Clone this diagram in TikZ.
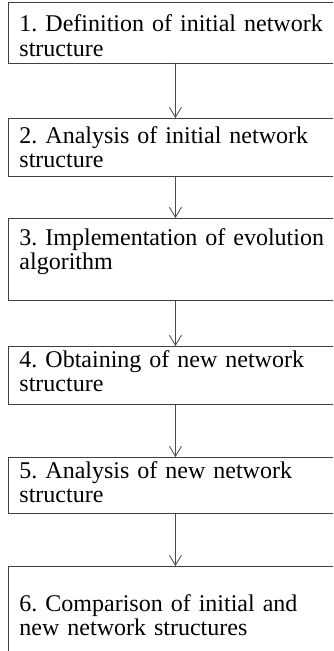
\documentclass[tikz,border=0pt]{standalone}
\usepackage{fontspec}
\setmainfont{Liberation Serif}
\usetikzlibrary{arrows.meta}

\newcommand{\stagefont}{\fontsize{24}{24.5}\selectfont\frenchspacing\spaceskip=0.3em plus 0.1em\relax}
\tikzset{
  stage/.style={draw=black!75, line width=0.9pt, anchor=north west,
    inner xsep=11pt, inner ysep=0pt, text width=312pt, align=left,
    font=\stagefont},
  flow/.style={-{Straight Barb[length=10pt,width=12pt]}, line width=0.8pt, black!70}
}

\begin{document}
\begin{tikzpicture}[x=1pt,y=-1pt]
\useasboundingbox (0,0) rectangle (333,651);
\clip (0,0) rectangle (333,651);
%\draw[help lines, color=gray!30] (0,0) grid (333,651);
\node [stage, text height=30pt, text depth=31pt] (define) at (8,1.5) {1. Definition of initial network\\structure};
\node [stage, text height=25pt, text depth=33pt] (analyse1) at (8,118) {2. Analysis of initial network\\structure};
\node [stage, text height=27pt, text depth=55pt] (evolve) at (8,218) {3. Implementation of evolution\\algorithm};
\node [stage, text height=21pt, text depth=37pt] (obtain) at (8,346) {4. Obtaining of new network\\structure};
\node [stage, text height=21pt, text depth=35pt] (analyse2) at (8,457) {5. Analysis of new network\\structure};
\node [stage, text height=45pt, text depth=70pt] (compare) at (8,566) {6. Comparison of initial and\\new network structures};

\draw [flow] (define) -- (analyse1);
\draw [flow] (analyse1) -- (evolve);
\draw [flow] (evolve) -- (obtain);
\draw [flow] (obtain) -- (analyse2);
\draw [flow] (analyse2) -- (compare);
\end{tikzpicture}
\end{document}
